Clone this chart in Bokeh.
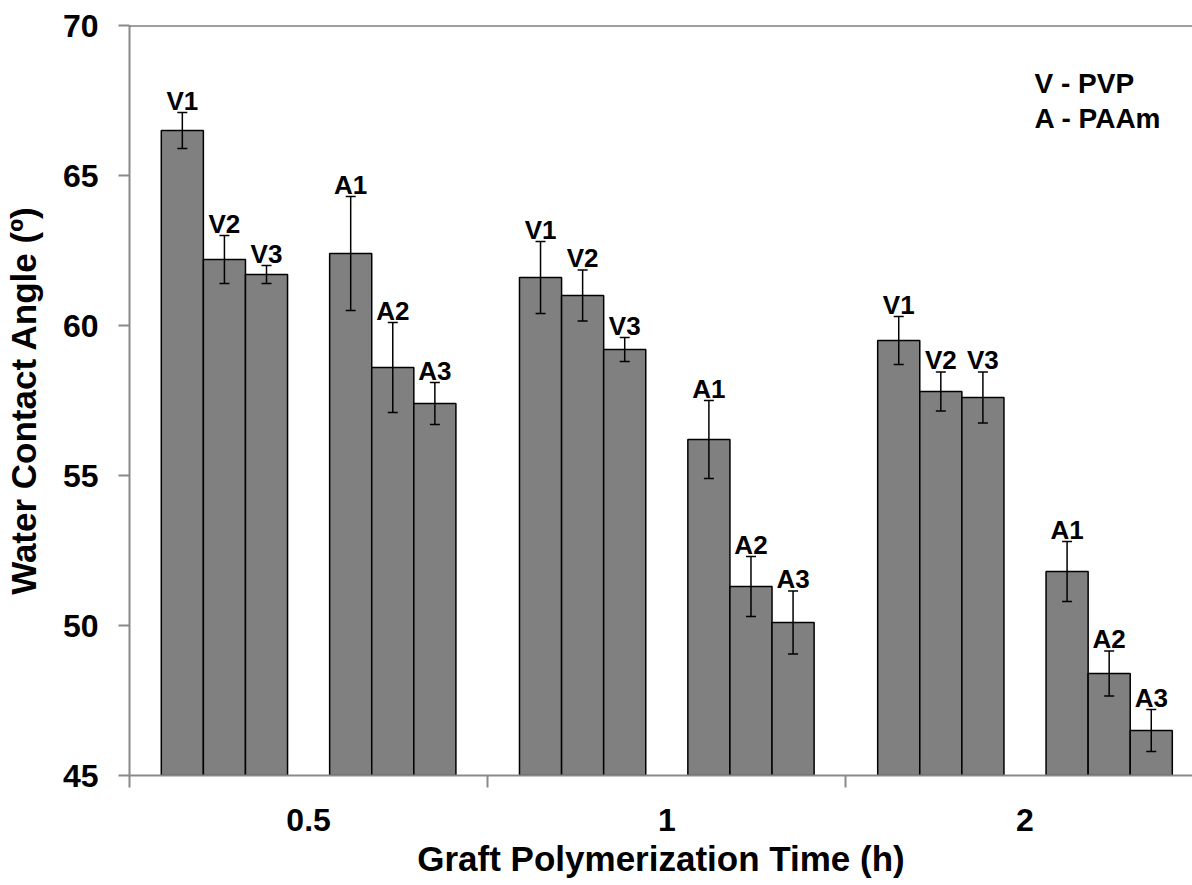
from bokeh.plotting import figure
from bokeh.models import (ColumnDataSource, Range1d, FixedTicker, Whisker,
                          TeeHead, Span, Label)
from bokeh.core.properties import value
from bokeh.embed import file_html
from bokeh.resources import INLINE

# Graft polymerization times (x categories)
times = ["0.5", "1", "2"]

# Water contact angle (deg), mean and error per sample at each time
v1 = [66.5, 61.6, 59.5]
v2 = [62.2, 61.0, 57.8]
v3 = [61.7, 59.2, 57.6]
a1 = [62.4, 56.2, 51.8]
a2 = [58.6, 51.3, 48.4]
a3 = [57.4, 50.1, 46.5]

v1_err = [0.6, 1.2, 0.8]
v2_err = [0.8, 0.85, 0.65]
v3_err = [0.3, 0.4, 0.85]
a1_err = [1.9, 1.3, 1.0]
a2_err = [1.5, 1.0, 0.75]
a3_err = [0.7, 1.05, 0.7]

sample_names = ["V1", "V2", "V3", "A1", "A2", "A3"]
y_ticks = [45, 50, 55, 60, 65, 70]
key_lines = ["V - PVP", "A - PAAm"]

FONT = "Liberation Sans"
BAR_W = 0.1175               # width of one bar in category units
slots = [0, 1, 2, 4, 5, 6]   # slot 3 is the empty gap between V and A bars

series = [v1, v2, v3, a1, a2, a3]
errors = [v1_err, v2_err, v3_err, a1_err, a2_err, a3_err]

xs, tops, lows, highs, names = [], [], [], [], []
for i in range(len(times)):
    for name, slot, vals, errs in zip(sample_names, slots, series, errors):
        xs.append(i + 0.5 + (slot - 3) * BAR_W)
        tops.append(vals[i])
        lows.append(vals[i] - errs[i])
        highs.append(vals[i] + errs[i])
        names.append(name)

src = ColumnDataSource(dict(x=xs, top=tops, lower=lows, upper=highs, name=names))

W, H = 1192, 885
LEFT, TOP, BOTTOM = 129, 25, 110
CAT_PX = 358.2
x_end = (W - LEFT) / CAT_PX

p = figure(width=W, height=H, output_backend="svg", toolbar_location=None,
           x_range=Range1d(0, x_end), y_range=Range1d(45, 70),
           min_border_left=LEFT, min_border_right=0,
           min_border_top=TOP, min_border_bottom=BOTTOM)
p.outline_line_color = None
p.xgrid.visible = False
p.ygrid.visible = False
p.background_fill_color = "white"
p.border_fill_color = "white"

# bars
p.vbar(x="x", top="top", bottom=45, width=BAR_W, source=src,
       fill_color="#808080", line_color="black", line_width=1.5)

# error bars
head = dict(size=10, line_color="black", line_width=1.5)
p.add_layout(Whisker(source=src, base="x", upper="upper", lower="lower",
                     line_color="black", line_width=1.5, level="overlay",
                     upper_head=TeeHead(**head), lower_head=TeeHead(**head)))

# sample labels above the error bars
p.text(x="x", y="upper", text="name", source=src,
       text_font=value(FONT), text_font_style="bold", text_font_size="26px",
       text_align="center", text_baseline="alphabetic", y_offset=-12,
       text_color="black")

# top border of plot area
p.add_layout(Span(location=70, dimension="width", line_color="#404040", line_width=2))

# key text
key_x = (1034 - LEFT) / CAT_PX
for k, line in enumerate(key_lines):
    p.add_layout(Label(x=key_x, y=70 - (83 - TOP + 35 * k) / 30, text=line,
                       text_font=FONT, text_font_style="bold", text_font_size="28px",
                       text_baseline="alphabetic", text_color="black"))

# y axis
ya = p.yaxis[0]
ya.ticker = FixedTicker(ticks=y_ticks)
ya.axis_line_color = "#898989"
ya.axis_line_width = 2
ya.major_tick_line_color = "#898989"
ya.major_tick_line_width = 2
ya.major_tick_out = 11
ya.major_tick_in = 0
ya.minor_tick_line_color = None
ya.major_label_standoff = 20
ya.major_label_text_font = FONT
ya.major_label_text_font_style = "bold"
ya.major_label_text_font_size = "32px"
ya.major_label_text_color = "black"
ya.axis_label = "Water Contact Angle (º)"
ya.axis_label_text_font = FONT
ya.axis_label_text_font_style = "bold"
ya.axis_label_text_font_size = "35px"
ya.axis_label_text_color = "black"
ya.axis_label_standoff = 17

# x axis: labels at category centres, tick marks at category boundaries
xa = p.xaxis[0]
xa.ticker = FixedTicker(ticks=[i + 0.5 for i in range(len(times))],
                        minor_ticks=list(range(len(times) + 1)))
xa.major_label_overrides = {i + 0.5: t for i, t in enumerate(times)}
xa.axis_line_color = "#898989"
xa.axis_line_width = 2
xa.major_tick_line_color = None
xa.major_tick_out = 0
xa.major_tick_in = 0
xa.minor_tick_line_color = "#898989"
xa.minor_tick_line_width = 2
xa.minor_tick_out = 12
xa.minor_tick_in = 0
xa.major_label_standoff = 21
xa.major_label_text_font = FONT
xa.major_label_text_font_style = "bold"
xa.major_label_text_font_size = "32px"
xa.major_label_text_color = "black"
xa.axis_label = "Graft Polymerization Time (h)"
xa.axis_label_text_font = FONT
xa.axis_label_text_font_style = "bold"
xa.axis_label_text_font_size = "35px"
xa.axis_label_text_color = "black"
xa.axis_label_standoff = 5

open("out.html", "w").write(file_html(p, INLINE))
